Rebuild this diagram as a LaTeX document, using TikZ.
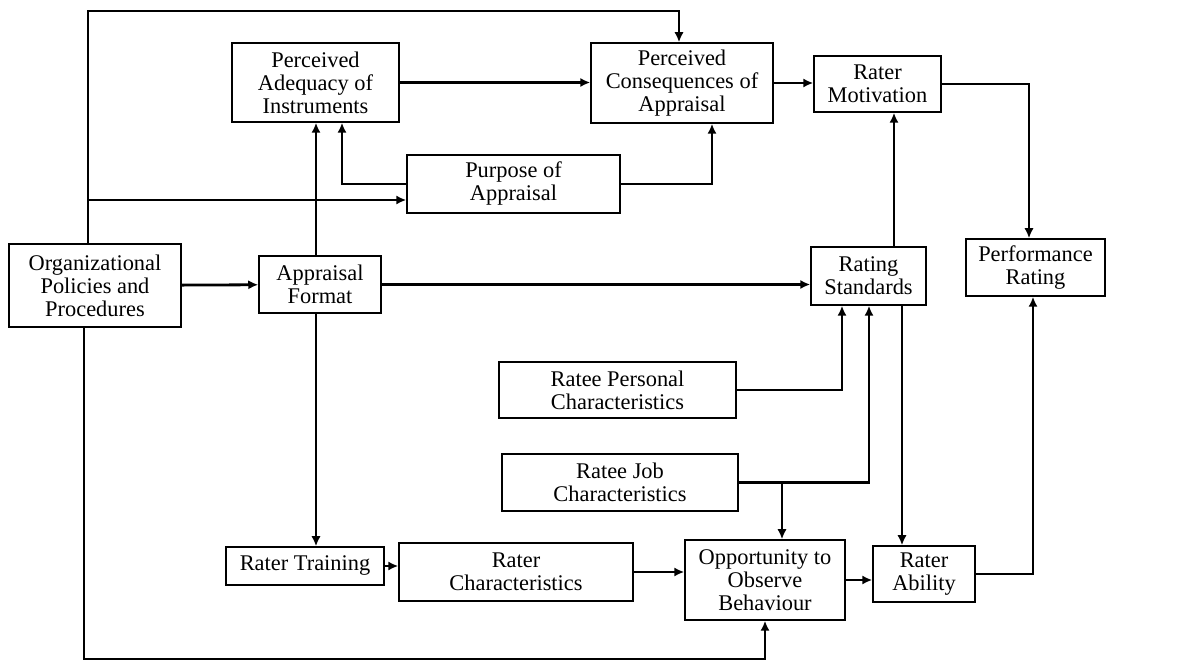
\documentclass[tikz,border=0pt]{standalone}
\usepackage{fontspec}
\setmainfont{Liberation Serif}
\usetikzlibrary{positioning,arrows.meta}

\begin{document}
\begin{tikzpicture}[
  x=0.5pt, y=-0.5pt,
  font=\fontsize{11.2}{11.5}\selectfont,
  box/.style={draw, line width=0.75pt, align=center, inner sep=2pt},
  flow/.style={-{Latex[length=5pt,width=4.6pt]}, line width=1.4pt},
]
\useasboundingbox (0,0) rectangle (1190,662);

% ---------- nodes ----------
\node[box, minimum width=86pt, minimum height=41.5pt] (org) at (95,285.5) {Organizational\\Policies and\\Procedures};
\node[box, minimum width=61pt, minimum height=28.5pt] (af) at (320,284.5) {Appraisal\\Format};
\node[box, minimum width=83.5pt, minimum height=39.5pt] (pai) at (315.5,82.5) {Perceived\\Adequacy of\\Instruments};
\node[box, minimum width=91pt, minimum height=40pt] (pca) at (682,83) {Perceived\\Consequences of\\Appraisal};
\node[box, minimum width=106.5pt, minimum height=29pt] (poa) at (513.5,184) {Purpose of\\Appraisal};
\node[box, minimum width=63.5pt, minimum height=28pt] (rm) at (877.5,84) {Rater\\Motivation};
\node[box, minimum width=57.5pt, minimum height=29pt] (rs) at (868.5,276) {Rating\\Standards};
\node[box, minimum width=69.5pt, minimum height=28.5pt] (pr) at (1035.5,267.5) {Performance\\Rating};
\node[box, minimum width=118.5pt, minimum height=28pt] (rpc) at (617.5,390) {Ratee Personal\\Characteristics};
\node[box, minimum width=118pt, minimum height=28.5pt] (rjc) at (620,482.5) {Ratee Job\\Characteristics};
\node[box, minimum width=79pt, minimum height=19pt] (rt) at (305,566) {Rater Training};
\node[box, minimum width=117pt, minimum height=29pt] (rc) at (516,572) {Rater\\Characteristics};
\node[box, minimum width=80pt, minimum height=40pt] (oob) at (765,580) {Opportunity to\\Observe\\Behaviour};
\node[box, minimum width=51pt, minimum height=28pt] (ra) at (924,574) {Rater\\Ability};

% ---------- rails ----------
\coordinate (topL) at (88,11);
\coordinate (topR) at (679,11);
\coordinate (midL) at (88,200);
\coordinate (botL) at (84,659);
\coordinate (afX) at (316,0);
\coordinate (paiIn) at (342,0);
\coordinate (pcaIn) at (712,0);
\coordinate (prIn) at (1029,0);
\coordinate (prIn2) at (1033,0);
\coordinate (rmIn) at (894,0);
\coordinate (rsIn1) at (842,0);
\coordinate (rsIn2) at (869,0);
\coordinate (raIn) at (902,0);
\coordinate (oobIn) at (782,0);

% ---------- flows ----------
\draw[flow] (org.north -| topL) |- (topR) -- (topR |- pca.north);
\draw[flow] (midL) -- (midL -| poa.west);
\draw[flow] (poa.west) -| (paiIn |- pai.south);
\draw[flow] (poa.east) -| (pcaIn |- pca.south);
\draw[flow] (pai.east) -- (pai.east -| pca.west);
\draw[flow] (pca.east) -- (pca.east -| rm.west);
\draw[flow] (rm.east) -| (prIn |- pr.north);

\draw[flow] (org) -- (af);
\draw[flow] (afX |- af.north) -- (afX |- pai.south);
\draw[flow] (afX |- af.south) -- (afX |- rt.north);
\draw[flow] (af.east) -- (af.east -| rs.west);

\draw[flow] (rmIn |- rs.north) -- (rmIn |- rm.south);
\draw[flow] (rpc.east) -| (rsIn1 |- rs.south);
\draw[flow] (rjc.east) -| (rsIn2 |- rs.south);
\draw[flow] (oobIn |- rjc.east) -- (oobIn |- oob.north);
\draw[flow] (raIn |- rs.south) -- (raIn |- ra.north);

\draw[flow] (rt.east) -- (rt.east -| rc.west);
\draw[flow] (rc.east) -- (rc.east -| oob.west);
\draw[flow] (oob.east) -- (oob.east -| ra.west);
\draw[flow] (ra.east) -| (prIn2 |- pr.south);

\draw[flow] (org.south -| botL) |- (oob.south |- botL) -- (oob.south);

\end{tikzpicture}
\end{document}
